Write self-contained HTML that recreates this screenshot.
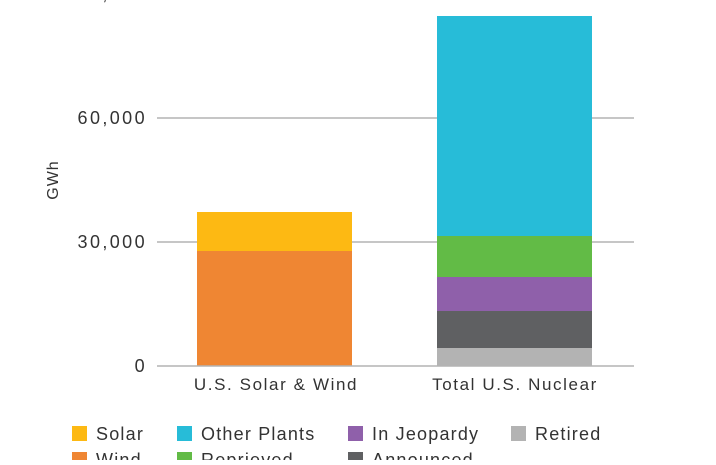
<!DOCTYPE html>
<html><head><meta charset="utf-8"><style>
body{margin:0;background:#fff;width:716px;height:460px;overflow:hidden;font-family:"Liberation Sans",sans-serif;}
svg text{font-family:"Liberation Sans",sans-serif;fill:#333;}
</style></head><body>
<svg width="716" height="460" xmlns="http://www.w3.org/2000/svg">
<g stroke="#b3b3b3" stroke-width="1.5">
<line x1="157" y1="-6" x2="634" y2="-6"/>
<line x1="157" y1="118" x2="634" y2="118"/>
<line x1="157" y1="242" x2="634" y2="242"/>
</g>
<g font-size="18" text-anchor="end" letter-spacing="2.4">
<text x="147" y="0">90,000</text>
<text x="147" y="124">60,000</text>
<text x="147" y="248">30,000</text>
<text x="147" y="372">0</text>
</g>
<text x="58" y="180" font-size="16" text-anchor="middle" letter-spacing="1" transform="rotate(-90 58 180)">GWh</text>
<rect x="197" y="212" width="155" height="39" fill="#fdb913"/>
<rect x="197" y="251" width="155" height="115" fill="#ef8633"/>
<rect x="437" y="16" width="155" height="220" fill="#27bcd8"/>
<rect x="437" y="236" width="155" height="41" fill="#62bb46"/>
<rect x="437" y="277" width="155" height="34" fill="#8f60aa"/>
<rect x="437" y="311" width="155" height="37" fill="#5f6062"/>
<rect x="437" y="348" width="155" height="18" fill="#b3b3b3"/>
<line x1="157" y1="366" x2="634" y2="366" stroke="#b3b3b3" stroke-width="1.5"/>
<g font-size="17" text-anchor="middle" letter-spacing="1.6">
<text x="276" y="390">U.S. Solar &amp; Wind</text>
<text x="515" y="390">Total U.S. Nuclear</text>
</g>
<g font-size="18" letter-spacing="1.2">
<rect x="72" y="426" width="15" height="15" fill="#fdb913"/><text x="96" y="440">Solar</text>
<rect x="177" y="426" width="15" height="15" fill="#27bcd8"/><text x="201" y="440">Other Plants</text>
<rect x="348" y="426" width="15" height="15" fill="#8f60aa"/><text x="372" y="440">In Jeopardy</text>
<rect x="511" y="426" width="15" height="15" fill="#b3b3b3"/><text x="535" y="440">Retired</text>
<rect x="72" y="452" width="15" height="15" fill="#ef8633"/><text x="96" y="466">Wind</text>
<rect x="177" y="452" width="15" height="15" fill="#62bb46"/><text x="201" y="466">Reprieved</text>
<rect x="348" y="452" width="15" height="15" fill="#5f6062"/><text x="372" y="466">Announced</text>
</g>
</svg>
</body></html>
